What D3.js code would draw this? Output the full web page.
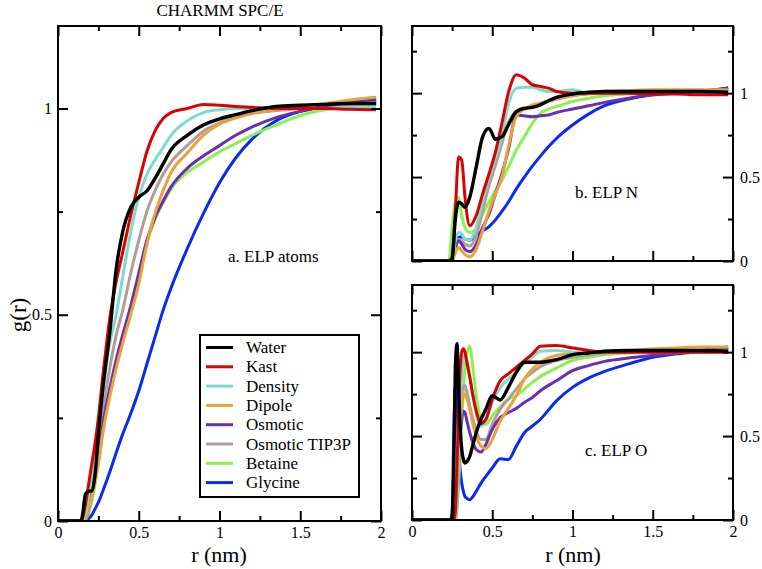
<!DOCTYPE html>
<html><head><meta charset="utf-8">
<script src="https://cdn.jsdelivr.net/npm/d3@7"></script>
<style>body{margin:0;background:#fff} svg{display:block} svg text{font-family:"Liberation Serif","Times New Roman","DejaVu Serif",serif !important;}</style>
</head><body><svg id="chart" width="762" height="569"></svg>
<script>
// ---------- DATA ----------
const seriesNames = ["Water", "Kast", "Density", "Dipole", "Osmotic", "Osmotic TIP3P", "Betaine", "Glycine"];
const seriesColors = ["#000000", "#dd0000", "#7cdccc", "#eaa23a", "#6a2db6", "#b29c9a", "#8cef52", "#0a2af0"];
const drawOrder = ["Glycine", "Betaine", "Osmotic TIP3P", "Osmotic", "Dipole", "Density", "Kast", "Water"];
const xTicksMajor = [0, 0.5, 1, 1.5, 2];
const xTicksMinor = [0.25, 0.75, 1.25, 1.75];
const yTicksMajor = [0, 0.5, 1];
const yTicksMinor = [0.25, 0.75, 1.25];

// panel a: ELP atoms
const rA = [0, 0.14, 0.15, 0.17, 0.19, 0.21, 0.23, 0.25, 0.28, 0.32, 0.36, 0.4, 0.45, 0.5, 0.55, 0.6, 0.65, 0.7, 0.8, 0.9, 1.0, 1.1, 1.2, 1.35, 1.5, 1.65, 1.8, 1.97];
const aWater   = [0, 0, 0.01, 0.065, 0.072, 0.073, 0.115, 0.21, 0.33, 0.455, 0.61, 0.70, 0.76, 0.785, 0.80, 0.83, 0.865, 0.90, 0.935, 0.96, 0.975, 0.985, 0.995, 1.005, 1.008, 1.01, 1.012, 1.012];
const aKast    = [0, 0, 0.005, 0.04, 0.09, 0.14, 0.19, 0.25, 0.36, 0.49, 0.58, 0.65, 0.74, 0.82, 0.895, 0.945, 0.975, 0.99, 1.0, 1.01, 1.008, 1.005, 1.003, 1.0, 1.0, 1.0, 0.998, 0.997];
const aDensity = [0, 0, 0.003, 0.02, 0.06, 0.11, 0.16, 0.22, 0.32, 0.43, 0.50, 0.59, 0.70, 0.785, 0.84, 0.875, 0.905, 0.935, 0.97, 0.99, 0.997, 1.0, 1.0, 1.0, 1.0, 1.0, 1.003, 1.005];
const aDipole  = [0, 0, 0, 0.005, 0.03, 0.06, 0.10, 0.14, 0.22, 0.30, 0.37, 0.43, 0.50, 0.575, 0.67, 0.745, 0.80, 0.845, 0.892, 0.935, 0.962, 0.977, 0.988, 0.998, 1.005, 1.012, 1.02, 1.027];
const aOsmotic = [0, 0, 0, 0.005, 0.03, 0.07, 0.11, 0.16, 0.24, 0.32, 0.39, 0.45, 0.52, 0.60, 0.68, 0.735, 0.775, 0.81, 0.855, 0.885, 0.91, 0.935, 0.955, 0.978, 0.993, 1.005, 1.015, 1.025];
const aTIP3P   = [0, 0, 0, 0.01, 0.04, 0.08, 0.13, 0.18, 0.27, 0.37, 0.45, 0.51, 0.60, 0.68, 0.75, 0.80, 0.84, 0.87, 0.91, 0.945, 0.965, 0.98, 0.988, 0.995, 1.0, 1.005, 1.01, 1.015];
const aBetaine = [0, 0, 0, 0.003, 0.02, 0.05, 0.09, 0.14, 0.22, 0.31, 0.38, 0.445, 0.52, 0.60, 0.675, 0.73, 0.77, 0.805, 0.845, 0.87, 0.895, 0.915, 0.935, 0.96, 0.983, 0.997, 1.005, 1.01];
const aGlycine = [0, 0, 0, 0.002, 0.006, 0.015, 0.03, 0.045, 0.075, 0.118, 0.165, 0.21, 0.26, 0.315, 0.38, 0.445, 0.51, 0.565, 0.66, 0.745, 0.82, 0.88, 0.925, 0.97, 0.993, 1.005, 1.012, 1.02];

// panel b: ELP N
const rB = [0, 0.23, 0.25, 0.27, 0.29, 0.31, 0.33, 0.36, 0.4, 0.44, 0.48, 0.52, 0.56, 0.6, 0.65, 0.7, 0.75, 0.8, 0.85, 0.9, 1.0, 1.1, 1.2, 1.35, 1.5, 1.65, 1.8, 1.97];
const bWater   = [0, 0, 0.02, 0.25, 0.35, 0.34, 0.32, 0.38, 0.56, 0.74, 0.79, 0.725, 0.74, 0.81, 0.89, 0.91, 0.915, 0.93, 0.955, 0.975, 0.995, 1.005, 1.01, 1.01, 1.01, 1.01, 1.01, 1.005];
const bKast    = [0, 0, 0, 0.3, 0.62, 0.6, 0.38, 0.21, 0.27, 0.40, 0.52, 0.65, 0.82, 1.0, 1.11, 1.09, 1.05, 1.04, 1.03, 1.01, 1.0, 1.0, 1.0, 1.0, 0.995, 0.995, 0.99, 0.99];
const bDensity = [0, 0, 0, 0.12, 0.17, 0.16, 0.13, 0.125, 0.2, 0.36, 0.5, 0.62, 0.74, 0.93, 1.03, 1.035, 1.035, 1.02, 1.01, 1.01, 1.02, 1.0, 1.0, 1.0, 1.0, 1.0, 1.0, 1.0];
const bDipole  = [0, 0, 0, 0.05, 0.08, 0.06, 0.04, 0.025, 0.07, 0.18, 0.30, 0.40, 0.50, 0.68, 0.86, 0.905, 0.93, 0.94, 0.95, 0.965, 0.985, 1.0, 1.01, 1.015, 1.02, 1.02, 1.02, 1.02];
const bOsmotic = [0, 0, 0, 0.08, 0.12, 0.10, 0.07, 0.055, 0.10, 0.20, 0.28, 0.40, 0.52, 0.66, 0.87, 0.865, 0.86, 0.865, 0.87, 0.885, 0.905, 0.925, 0.945, 0.97, 0.99, 1.0, 1.01, 1.03];
const bTIP3P   = [0, 0, 0, 0.08, 0.13, 0.12, 0.10, 0.09, 0.15, 0.30, 0.45, 0.57, 0.70, 0.82, 0.89, 0.905, 0.92, 0.94, 0.955, 0.965, 0.985, 0.995, 1.0, 1.005, 1.01, 1.01, 1.015, 1.02];
const bBetaine = [0, 0, 0.2, 0.35, 0.38, 0.27, 0.2, 0.17, 0.19, 0.28, 0.35, 0.42, 0.48, 0.56, 0.66, 0.74, 0.82, 0.88, 0.905, 0.92, 0.95, 0.97, 0.985, 0.995, 1.0, 1.005, 1.01, 1.01];
const bGlycine = [0, 0, 0, 0.08, 0.14, 0.145, 0.13, 0.125, 0.155, 0.18, 0.205, 0.245, 0.295, 0.35, 0.43, 0.50, 0.565, 0.625, 0.68, 0.73, 0.81, 0.875, 0.925, 0.965, 0.99, 1.0, 1.01, 1.03];

// panel c: ELP O
const rC = [0, 0.24, 0.25, 0.26, 0.27, 0.28, 0.29, 0.30, 0.31, 0.32, 0.33, 0.34, 0.36, 0.38, 0.40, 0.43, 0.46, 0.5, 0.55, 0.6, 0.65, 0.7, 0.75, 0.8, 0.9, 1.0, 1.1, 1.2, 1.35, 1.5, 1.65, 1.8, 1.97];
const cWater   = [0, 0, 0.02, 0.3, 0.9, 1.05, 0.8, 0.55, 0.42, 0.36, 0.34, 0.345, 0.38, 0.45, 0.52, 0.60, 0.66, 0.74, 0.715, 0.79, 0.88, 0.94, 0.94, 0.94, 0.955, 0.985, 0.995, 1.005, 1.01, 1.01, 1.01, 1.01, 1.005];
const cKast    = [0, 0, 0, 0, 0.05, 0.3, 0.65, 0.9, 1.0, 1.02, 1.0, 0.95, 0.85, 0.74, 0.65, 0.575, 0.6, 0.72, 0.83, 0.87, 0.91, 0.95, 0.99, 1.035, 1.04, 1.025, 1.01, 1.0, 1.0, 1.0, 1.0, 1.0, 1.0];
const cDensity = [0, 0, 0, 0, 0, 0.1, 0.4, 0.7, 0.88, 0.96, 0.98, 0.96, 0.86, 0.74, 0.64, 0.56, 0.59, 0.70, 0.79, 0.84, 0.88, 0.935, 0.97, 1.005, 1.01, 1.0, 1.0, 1.0, 1.0, 1.0, 1.0, 1.0, 1.005];
const cDipole  = [0, 0, 0, 0, 0, 0.1, 0.3, 0.55, 0.68, 0.74, 0.75, 0.73, 0.66, 0.57, 0.5, 0.44, 0.425, 0.48, 0.59, 0.665, 0.74, 0.84, 0.9, 0.94, 0.98, 0.99, 1.0, 1.005, 1.01, 1.02, 1.025, 1.03, 1.03];
const cOsmotic = [0, 0, 0, 0, 0, 0.1, 0.3, 0.5, 0.6, 0.65, 0.64, 0.6, 0.52, 0.46, 0.42, 0.405, 0.45, 0.54, 0.61, 0.64, 0.665, 0.70, 0.73, 0.77, 0.83, 0.89, 0.92, 0.945, 0.965, 0.98, 0.995, 1.01, 1.03];
const cTIP3P   = [0, 0, 0, 0, 0, 0.1, 0.35, 0.6, 0.75, 0.8, 0.8, 0.77, 0.68, 0.6, 0.53, 0.48, 0.48, 0.57, 0.66, 0.72, 0.78, 0.84, 0.88, 0.915, 0.95, 0.97, 0.985, 0.995, 1.0, 1.005, 1.005, 1.01, 1.01];
const cBetaine = [0, 0, 0, 0, 0, 0.05, 0.2, 0.4, 0.6, 0.78, 0.9, 0.98, 1.035, 0.9, 0.74, 0.6, 0.57, 0.62, 0.675, 0.72, 0.74, 0.78, 0.82, 0.855, 0.905, 0.95, 0.97, 0.985, 0.995, 1.0, 1.005, 1.01, 1.01];
const cGlycine = [0, 0, 0.05, 0.5, 0.8, 0.7, 0.45, 0.3, 0.22, 0.17, 0.14, 0.13, 0.12, 0.14, 0.17, 0.22, 0.26, 0.31, 0.365, 0.36, 0.44, 0.52, 0.56, 0.60, 0.71, 0.79, 0.845, 0.885, 0.93, 0.97, 0.99, 1.005, 1.03];

// ---------- BUILD ----------
const FONT = "Liberation Serif, Times New Roman, DejaVu Serif, serif";
const svg = d3.select("#chart");
const colorOf = d3.scaleOrdinal(seriesNames, seriesColors);

const panels = [
  { id: "a", r: rA, ymax: 1.2, left: 58, right: 381, top: 26, bottom: 521, yLab: "left", xLab: true, yMinor: [0.25, 0.75],
    series: { "Water": aWater, "Kast": aKast, "Density": aDensity, "Dipole": aDipole, "Osmotic": aOsmotic, "Osmotic TIP3P": aTIP3P, "Betaine": aBetaine, "Glycine": aGlycine } },
  { id: "b", r: rB, ymax: 1.4, left: 412, right: 733, top: 26, bottom: 261, yLab: "right", xLab: false, yMinor: yTicksMinor,
    series: { "Water": bWater, "Kast": bKast, "Density": bDensity, "Dipole": bDipole, "Osmotic": bOsmotic, "Osmotic TIP3P": bTIP3P, "Betaine": bBetaine, "Glycine": bGlycine } },
  { id: "c", r: rC, ymax: 1.4, left: 412, right: 733, top: 285, bottom: 520, yLab: "right", xLab: true, yMinor: yTicksMinor,
    series: { "Water": cWater, "Kast": cKast, "Density": cDensity, "Dipole": cDipole, "Osmotic": cOsmotic, "Osmotic TIP3P": cTIP3P, "Betaine": cBetaine, "Glycine": cGlycine } }
];

const fmt = d3.format("~g");

function styleAxis(g) {
  g.select(".domain").remove();
  g.selectAll(".tick line").attr("stroke", "#000").attr("stroke-width", 2);
  g.selectAll(".tick text").attr("fill", "#000");
  g.attr("font-family", FONT).attr("font-size", 16);
}

panels.forEach(p => {
  const x = d3.scaleLinear().domain([0, 2]).range([p.left, p.right]);
  const y = d3.scaleLinear().domain([0, p.ymax]).range([p.bottom, p.top]);
  const g = svg.append("g");

  g.append("clipPath").attr("id", "clip-" + p.id)
    .append("rect").attr("x", p.left).attr("y", p.top)
    .attr("width", p.right - p.left).attr("height", p.bottom - p.top);

  const line = d3.line()
    .x((d, i) => x(p.r[i]))
    .y(d => y(d))
    .curve(d3.curveMonotoneX);

  const lines = g.append("g").attr("clip-path", "url(#clip-" + p.id + ")");
  drawOrder.forEach(name => {
    lines.append("path")
      .datum(p.series[name])
      .attr("fill", "none")
      .attr("stroke", colorOf(name))
      .attr("stroke-width", name === "Water" ? 3.4 : 3)
      .attr("stroke-linejoin", "round")
      .attr("d", line);
  });

  const bottomMaj = d3.axisBottom(x).tickValues(xTicksMajor).tickSize(-10).tickPadding(6)
    .tickFormat(p.xLab ? fmt : () => "");
  g.append("g").attr("transform", `translate(0,${p.bottom})`).call(bottomMaj).call(styleAxis);
  g.append("g").attr("transform", `translate(0,${p.bottom})`)
    .call(d3.axisBottom(x).tickValues(xTicksMinor).tickSize(-5).tickFormat(() => "")).call(styleAxis);
  g.append("g").attr("transform", `translate(0,${p.top})`)
    .call(d3.axisTop(x).tickValues(xTicksMajor).tickSize(-10).tickFormat(() => "")).call(styleAxis);
  g.append("g").attr("transform", `translate(0,${p.top})`)
    .call(d3.axisTop(x).tickValues(xTicksMinor).tickSize(-5).tickFormat(() => "")).call(styleAxis);

  g.append("g").attr("transform", `translate(${p.left},0)`)
    .call(d3.axisLeft(y).tickValues(yTicksMajor).tickSize(-10).tickPadding(6)
      .tickFormat(p.yLab === "left" ? fmt : () => "")).call(styleAxis);
  g.append("g").attr("transform", `translate(${p.left},0)`)
    .call(d3.axisLeft(y).tickValues(p.yMinor).tickSize(-5).tickFormat(() => "")).call(styleAxis);
  g.append("g").attr("transform", `translate(${p.right},0)`)
    .call(d3.axisRight(y).tickValues(yTicksMajor).tickSize(-10).tickPadding(7)
      .tickFormat(p.yLab === "right" ? fmt : () => "")).call(styleAxis);
  g.append("g").attr("transform", `translate(${p.right},0)`)
    .call(d3.axisRight(y).tickValues(p.yMinor).tickSize(-5).tickFormat(() => "")).call(styleAxis);

  g.append("rect")
    .attr("x", p.left).attr("y", p.top)
    .attr("width", p.right - p.left).attr("height", p.bottom - p.top)
    .attr("fill", "none").attr("stroke", "#000").attr("stroke-width", 2);
});

const txt = (x, y, s, size, anchor) => svg.append("text")
  .attr("x", x).attr("y", y).attr("font-family", FONT).attr("font-size", size)
  .attr("text-anchor", anchor || "start").attr("fill", "#000").text(s);

txt(220, 16, "CHARMM SPC/E", 17, "middle");
txt(228, 262, "a. ELP atoms", 17);
txt(575, 198, "b. ELP N", 17);
txt(585, 456, "c. ELP O", 17);
txt(219, 562, "r (nm)", 22, "middle");
txt(573, 562, "r (nm)", 22, "middle");
svg.append("text")
  .attr("transform", "translate(26,315) rotate(-90)")
  .attr("font-family", FONT).attr("font-size", 23).attr("text-anchor", "middle")
  .text("g(r)");

const lg = svg.append("g");
lg.append("rect").attr("x", 200).attr("y", 335).attr("width", 159).attr("height", 162)
  .attr("fill", "#fff").attr("stroke", "#000").attr("stroke-width", 2);
seriesNames.forEach((name, i) => {
  const by = 353 + i * 19.3;
  lg.append("line").attr("x1", 206).attr("x2", 233).attr("y1", by - 5.5).attr("y2", by - 5.5)
    .attr("stroke", colorOf(name)).attr("stroke-width", 3);
  lg.append("text").attr("x", 246).attr("y", by).attr("font-family", FONT).attr("font-size", 17)
    .text(name);
});
</script></body></html>
